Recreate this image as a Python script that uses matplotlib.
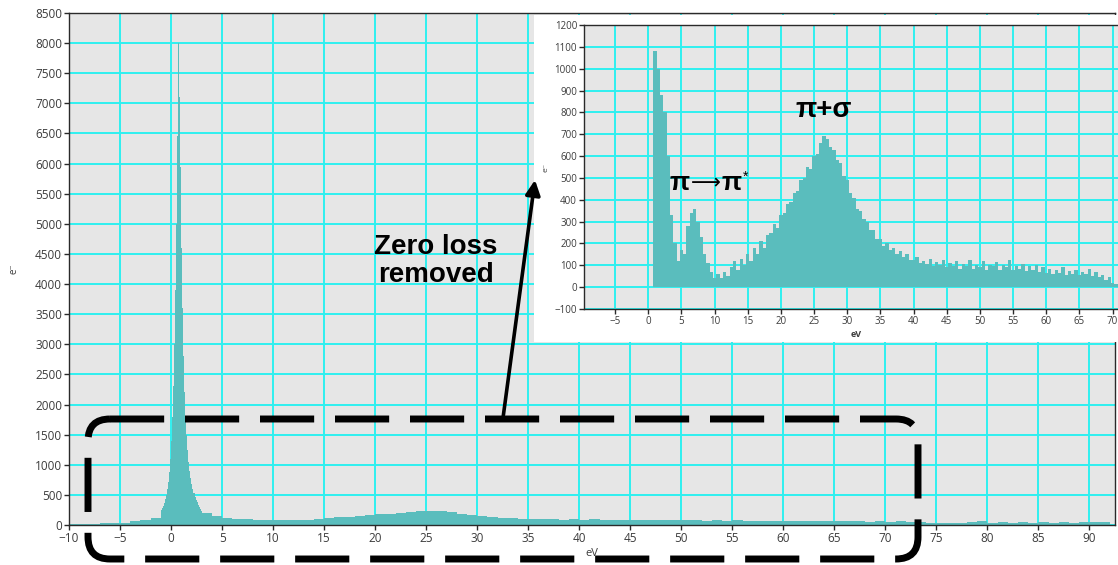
import numpy as np
import matplotlib
matplotlib.use("Agg")
import matplotlib.pyplot as plt
from matplotlib.patches import FancyBboxPatch

# --- data (counts per bin) ---
# main spectrum: coarse 1 eV bins on both sides, 0.1 eV bins across the zero-loss peak
main_left_edges = np.arange(-10.0, -0.99, 1.0)
main_left_counts = [10, 15, 20, 25, 30, 40, 60, 80, 120]

main_peak_edges = np.round(np.arange(-1.0, 3.001, 0.1), 2)
main_peak_counts = [250, 280, 320, 370, 430, 500, 600, 720, 880, 1100,
                    1400, 1800, 2300, 3000, 3900, 5000, 6450, 8000, 7100, 5950,
                    4600, 3600, 2800, 2200, 1800, 1500, 1250, 1050, 900, 780,
                    680, 600, 530, 470, 420, 380, 340, 300, 270, 240]

main_right_edges = np.arange(3.0, 92.01, 1.0)
main_right_counts = [200, 150, 110, 100, 95, 85, 80, 85, 80, 90,
                     85, 95, 120, 130, 140, 150, 160, 175, 185, 200,
                     210, 230, 240, 230, 210, 190, 170, 150, 130, 120,
                     110, 100, 100, 95, 100, 90, 95, 88, 92, 85,
                     90, 82, 88, 80, 85, 78, 82, 76, 80, 74,
                     78, 72, 76, 70, 74, 68, 72, 66, 70, 64,
                     68, 62, 66, 60, 64, 58, 62, 56, 60, 55,
                     58, 40, 30, 25, 35, 45, 60, 40, 50, 35,
                     45, 40, 50, 35, 45, 40, 50, 45, 55]

# inset: zero loss removed, 0.5 eV bins from 0.75 eV
inset_edges = np.arange(0.75, 71.26, 0.5)
inset_counts = [1080, 1000, 880, 800, 600, 330, 200, 120, 170, 150,
                280, 340, 360, 300, 230, 150, 110, 70, 40, 60,
                40, 70, 50, 90, 120, 80, 130, 100, 150, 120,
                180, 150, 210, 180, 240, 250, 290, 270, 330, 340,
                380, 390, 430, 440, 490, 500, 550, 540, 600, 610,
                660, 690, 680, 640, 630, 580, 570, 510, 490, 430,
                410, 360, 350, 310, 300, 260, 260, 220, 220, 190,
                200, 170, 180, 150, 165, 140, 150, 125, 125, 140,
                110, 120, 105, 130, 95, 115, 100, 125, 90, 110,
                95, 120, 85, 105, 95, 125, 85, 100, 90, 120,
                80, 100, 95, 115, 80, 100, 90, 125, 80, 95,
                85, 105, 75, 95, 80, 100, 70, 90, 65, 85,
                60, 80, 65, 90, 55, 75, 60, 80, 55, 70,
                60, 85, 50, 70, 45, 55, 35, 45, 20, 15,
                5]

main_xticks = np.arange(-10, 91, 5)
main_yticks = np.arange(0, 8501, 500)
inset_xticks = np.arange(-5, 71, 5)
inset_yticks = np.arange(-100, 1201, 100)

BAR = "#5abdbd"
GRID = "#2ff0f0"
FACE = "#e6e6e6"
TXT = "#3c3c3c"

W, H = 1118, 565
fig = plt.figure(figsize=(W / 100, H / 100), dpi=100)
fig.patch.set_facecolor("white")

tick_font = ["Open Sans", "DejaVu Sans"]
bold_font = ["Liberation Sans", "DejaVu Sans"]


def style_axes(ax, fs):
    ax.set_facecolor(FACE)
    ax.set_axisbelow(True)
    ax.grid(True, color=GRID, lw=1.4)
    for s in ax.spines.values():
        s.set_color("#2a2a2a")
        s.set_linewidth(1.0)
    ax.tick_params(length=3.5, width=1, color="#2a2a2a", labelcolor=TXT,
                   labelsize=fs, pad=1.5)
    for lab in ax.get_xticklabels() + ax.get_yticklabels():
        lab.set_family(tick_font)


def draw_hist(ax, edges, counts):
    edges = np.asarray(edges)
    assert len(edges) == len(counts) + 1
    ax.bar(edges[:-1], counts, width=np.diff(edges), align="edge",
           color=BAR, linewidth=0)


# --- main axes ---
ax = fig.add_axes([69 / W, 1 - 525 / H, (1115 - 69) / W, (525 - 13) / H])
ax.set_zorder(1)
draw_hist(ax, main_left_edges, main_left_counts)
draw_hist(ax, main_peak_edges, main_peak_counts)
draw_hist(ax, main_right_edges, main_right_counts)
ax.set_xlim(-10, 92.5)
ax.set_ylim(0, 8500)
ax.set_xticks(main_xticks)
ax.set_yticks(main_yticks)
style_axes(ax, 8.5)
ax.set_xlabel("eV", fontsize=8, color=TXT, family=tick_font, labelpad=2)
ax.set_ylabel("e\u207b", fontsize=7, color=TXT, family=tick_font, labelpad=11)

# --- white backing for the inset picture ---
bg = fig.add_axes([534 / W, 1 - 342 / H, (W - 534) / W, (342 - 15) / H])
bg.set_zorder(2)
bg.set_facecolor("white")
bg.set_xticks([])
bg.set_yticks([])
for s in bg.spines.values():
    s.set_visible(False)

# --- inset axes ---
ins = fig.add_axes([584 / W, 1 - 309 / H, (W - 584) / W + 0.01, (309 - 25) / H])
ins.set_zorder(3)
draw_hist(ins, inset_edges, inset_counts)
ins.set_xlim(-9.7, 72.5)
ins.set_ylim(-100, 1200)
ins.set_xticks(inset_xticks)
ins.set_yticks(inset_yticks)
style_axes(ins, 7)
ins.spines["right"].set_visible(False)
ins.set_xlabel("eV", fontsize=6.5, color=TXT, family=tick_font,
               fontweight="bold", labelpad=2)
ins.set_ylabel("e\u207b", fontsize=6, color=TXT, family=tick_font, labelpad=4)

# --- overlay in pixel coordinates for labels and the callout ---
ov = fig.add_axes([0, 0, 1, 1])
ov.set_zorder(4)
ov.set_xlim(0, W)
ov.set_ylim(H, 0)
ov.axis("off")

ov.text(824, 110, "\u03c0+\u03c3", fontsize=20, fontweight="bold",
        family=bold_font, ha="center", va="center")
ov.text(680, 183, "\u03c0", fontsize=19, fontweight="bold",
        family=bold_font, ha="center", va="center")
ov.text(706, 183, "\u27f6", fontsize=15, family=["DejaVu Sans"],
        ha="center", va="center")
ov.text(732, 183, "\u03c0", fontsize=19, fontweight="bold",
        family=bold_font, ha="center", va="center")
ov.text(746, 177, "*", fontsize=10, family=bold_font, ha="center", va="center")

box = FancyBboxPatch((88, 419), 918 - 88, 559 - 419,
                     boxstyle="round,pad=0,rounding_size=22",
                     fill=False, ec="black", lw=5, ls=(0, (7.8, 3.0)))
ov.add_patch(box)

ov.annotate("", xy=(535, 180), xytext=(503, 418),
            arrowprops=dict(arrowstyle="-|>", lw=2.6, color="black",
                            mutation_scale=22, shrinkA=0, shrinkB=0))
ov.text(436, 261, "Zero loss\nremoved", fontsize=20, fontweight="bold",
        family=bold_font, ha="center", va="center", linespacing=1.15)

fig.savefig("out.png", dpi=100)
